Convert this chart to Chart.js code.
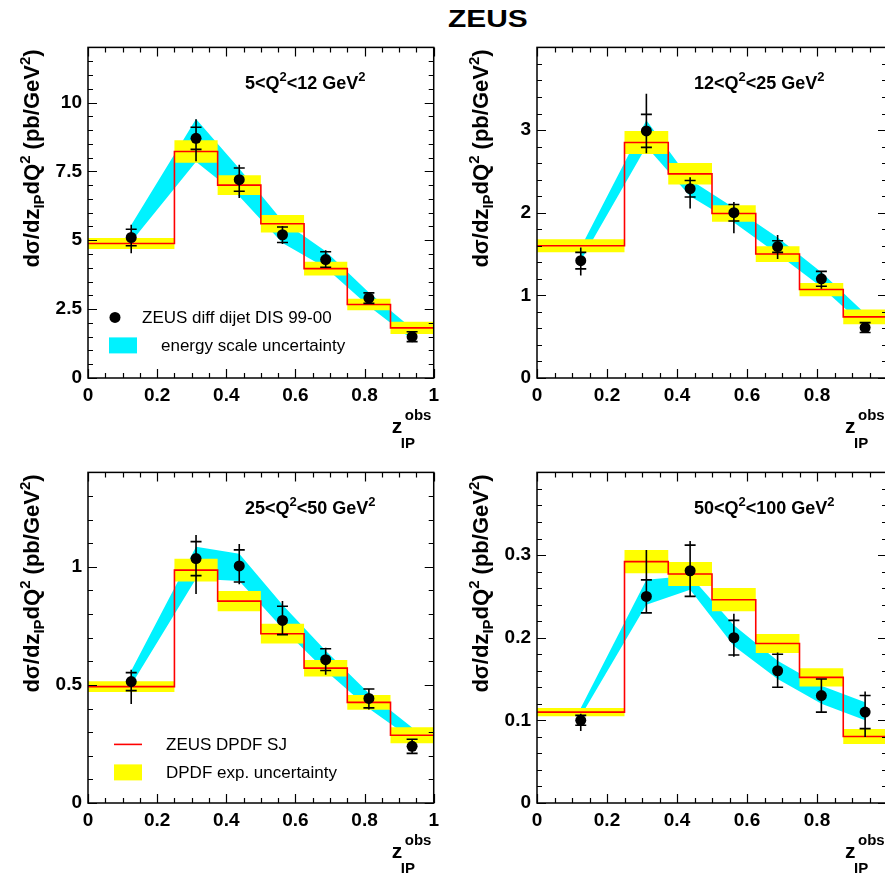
<!DOCTYPE html>
<html>
<head>
<meta charset="utf-8">
<title>ZEUS diffractive dijets</title>
<script src="https://cdn.jsdelivr.net/npm/chart.js@4.4.1/dist/chart.umd.min.js"></script>
<style>
  html, body { margin: 0; padding: 0; background: #fff; overflow: hidden; }
  body { width: 885px; height: 874px; position: relative; }
  canvas { position: absolute; }
  #title {
    position: absolute; left: 448px; top: 8px;
    font: bold 23px 'Liberation Sans', Arial, sans-serif; line-height: 23px;
    transform: scaleX(1.3); transform-origin: 0 0;
  }
</style>
</head>
<body>
<div id="title">ZEUS</div>
<canvas id="c1" width="445" height="430" style="left:0;top:30px"></canvas>
<canvas id="c2" width="446" height="430" style="left:449px;top:30px"></canvas>
<canvas id="c3" width="445" height="430" style="left:0;top:455px"></canvas>
<canvas id="c4" width="446" height="430" style="left:449px;top:455px"></canvas>
<script>
// z_IP^obs binning
const zEdges = [0, 0.25, 0.375, 0.5, 0.625, 0.75, 0.875, 1.0];
const zMid = [0.125, 0.3125, 0.4375, 0.5625, 0.6875, 0.8125, 0.9375];
const xTicksL = [0, 0.2, 0.4, 0.6, 0.8, 1];
const xTicksR = [0, 0.2, 0.4, 0.6, 0.8];

// 5 < Q2 < 12 GeV2
const sig1 = [5.1, 8.7, 7.2, 5.2, 4.3, 2.9, 1.5];
const stat1 = [0.3, 0.4, 0.42, 0.28, 0.28, 0.19, 0.18];
const errUp1 = [0.46, 0.69, 0.54, 0.32, 0.34, 0.2, 0.2];
const errDn1 = [0.57, 0.83, 0.67, 0.34, 0.3, 0.2, 0.2];
const escLo1 = [4.95, 7.85, 6.6, 4.9, 4.0, 2.6, 1.4];
const escHi1 = [5.55, 9.4, 7.6, 5.7, 4.6, 3.1, 1.8];
const sj1 = [4.88, 8.22, 7.0, 5.6, 3.97, 2.67, 1.82];
const sjErr1 = [0.2, 0.41, 0.36, 0.32, 0.25, 0.21, 0.22];
const yTicks1 = [0, 2.5, 5, 7.5, 10];

// 12 < Q2 < 25 GeV2
const sig2 = [1.42, 2.99, 2.29, 2.0, 1.59, 1.2, 0.61];
const stat2 = [0.1, 0.2, 0.1, 0.1, 0.07, 0.09, 0.06];
const errUp2 = [0.16, 0.45, 0.14, 0.13, 0.14, 0.1, 0.07];
const errDn2 = [0.18, 0.27, 0.24, 0.25, 0.15, 0.12, 0.07];
const escLo2 = [1.42, 2.8, 2.2, 1.88, 1.5, 1.1, 0.62];
const escHi2 = [1.58, 3.12, 2.4, 2.06, 1.7, 1.28, 0.78];
const sj2 = [1.6, 2.85, 2.47, 1.99, 1.5, 1.07, 0.74];
const sjErr2 = [0.08, 0.14, 0.13, 0.1, 0.095, 0.08, 0.09];
const yTicks2 = [0, 1, 2, 3];

// 25 < Q2 < 50 GeV2
const sig3 = [0.514, 1.035, 1.004, 0.773, 0.607, 0.443, 0.24];
const stat3 = [0.038, 0.072, 0.068, 0.06, 0.046, 0.04, 0.03];
const errUp3 = [0.05, 0.1, 0.093, 0.082, 0.05, 0.043, 0.03];
const errDn3 = [0.095, 0.15, 0.078, 0.057, 0.064, 0.047, 0.03];
const escLo3 = [0.5, 0.95, 0.94, 0.74, 0.56, 0.4, 0.27];
const escHi3 = [0.56, 1.085, 1.055, 0.84, 0.645, 0.465, 0.32];
const sj3 = [0.493, 0.986, 0.855, 0.717, 0.571, 0.426, 0.287];
const sjErr3 = [0.023, 0.048, 0.043, 0.042, 0.035, 0.031, 0.034];
const yTicks3 = [0, 0.5, 1];

// 50 < Q2 < 100 GeV2
const sig4 = [0.1, 0.25, 0.281, 0.2, 0.16, 0.13, 0.11];
const stat4 = [0.006, 0.02, 0.031, 0.021, 0.02, 0.02, 0.02];
const errUp4 = [0.008, 0.056, 0.036, 0.029, 0.022, 0.02, 0.025];
const errDn4 = [0.013, 0.021, 0.032, 0.023, 0.02, 0.02, 0.03];
const escLo4 = [0.105, 0.24, 0.258, 0.19, 0.15, 0.12, 0.1];
const escHi4 = [0.115, 0.27, 0.275, 0.215, 0.172, 0.142, 0.122];
const sj4 = [0.11, 0.292, 0.277, 0.246, 0.193, 0.152, 0.0805];
const sjErr4 = [0.005, 0.014, 0.0145, 0.014, 0.0115, 0.011, 0.009];
const yTicks4 = [0, 0.1, 0.2, 0.3];

const FONT = "'Liberation Sans', Arial, Helvetica, sans-serif";
const CYAN = '#00f2ff';
const YELLOW = '#ffff00';
const RED = '#ff0000';

function font(size, bold) {
  return (bold ? 'bold ' : '') + size + 'px ' + FONT;
}

function segWidth(ctx, segs) {
  let w = 0;
  segs.forEach(s => {
    ctx.font = font(s.size, s.bold !== false);
    w += ctx.measureText(s.t).width;
  });
  return w;
}

function drawSegs(ctx, segs, x, y) {
  let cx = x;
  segs.forEach(s => {
    ctx.font = font(s.size, s.bold !== false);
    ctx.fillText(s.t, cx, y + (s.dy || 0));
    cx += ctx.measureText(s.t).width;
  });
}

const yTitle = [
  {t: 'd\u03c3/dz', size: 22}, {t: 'IP', size: 15, dy: 5},
  {t: 'dQ', size: 22}, {t: '2', size: 15, dy: -9},
  {t: ' (pb/GeV', size: 22}, {t: '2', size: 15, dy: -9}, {t: ')', size: 22}
];

function q2Label(lo, hi) {
  return [
    {t: lo + '<Q', size: 18}, {t: '2', size: 13, dy: -8},
    {t: '<' + hi + ' GeV', size: 18}, {t: '2', size: 13, dy: -8}
  ];
}

// frame, inward ticks, axis titles, bin label and legend
const panelPlugin = {
  id: 'panel',
  afterDatasetsDraw(chart, args, o) {
    const {ctx, scales: {x, y}} = chart;
    ctx.save();
    ctx.strokeStyle = '#000';
    ctx.lineWidth = 1.6;
    ctx.beginPath();
    o.sig.forEach((v, i) => {
      const px = x.getPixelForValue(zMid[i]);
      ctx.moveTo(px, y.getPixelForValue(v + o.up[i]));
      ctx.lineTo(px, y.getPixelForValue(v - o.dn[i]));
      [v + o.stat[i], v - o.stat[i]].forEach(e => {
        const py = y.getPixelForValue(e);
        ctx.moveTo(px - 5.5, py);
        ctx.lineTo(px + 5.5, py);
      });
    });
    ctx.stroke();
    ctx.restore();
  },
  afterDraw(chart, args, o) {
    const {ctx, chartArea: a, scales: {x, y}} = chart;
    ctx.save();
    ctx.strokeStyle = '#000';
    ctx.lineWidth = 1.2;
    ctx.beginPath();
    for (let i = 0; i <= 20; i++) {
      const px = Math.round(x.getPixelForValue(i * 0.05)) + 0.5;
      const len = i % 4 === 0 ? 9 : 5;
      ctx.moveTo(px, a.bottom); ctx.lineTo(px, a.bottom - len);
      ctx.moveTo(px, a.top); ctx.lineTo(px, a.top + len);
    }
    const n = Math.round(y.max / o.yMinor);
    for (let i = 0; i <= n; i++) {
      const py = Math.round(y.getPixelForValue(i * o.yMinor)) + 0.5;
      const len = i % 5 === 0 ? 9 : 5;
      ctx.moveTo(a.left, py); ctx.lineTo(a.left + len, py);
      ctx.moveTo(a.right, py); ctx.lineTo(a.right - len, py);
    }
    ctx.stroke();
    ctx.lineWidth = 1.5;
    ctx.strokeRect(a.left, a.top, a.right - a.left, a.bottom - a.top);

    ctx.fillStyle = '#000';
    ctx.textAlign = 'left';
    ctx.textBaseline = 'alphabetic';

    // y title, reading upwards, ending at the top of the frame
    const w = segWidth(ctx, yTitle);
    ctx.save();
    ctx.translate(a.left - 49, a.top + 2 + w);
    ctx.rotate(-Math.PI / 2);
    drawSegs(ctx, yTitle, 0, 0);
    ctx.restore();

    // x title z_IP^obs
    ctx.font = font(21, true);
    ctx.fillText('z', a.right - 42, a.bottom + 55);
    ctx.font = font(15, true);
    ctx.fillText('obs', a.right - 29, a.bottom + 42);
    ctx.fillText('IP', a.right - 33, a.bottom + 70);

    drawSegs(ctx, o.label, a.left + 157, a.top + 42);

    (o.legend || []).forEach(item => {
      const lx = a.left + item.x, ly = a.top + item.y;
      if (item.kind === 'dot') {
        ctx.beginPath();
        ctx.arc(lx + 14, ly, 5.5, 0, Math.PI * 2);
        ctx.fill();
      } else if (item.kind === 'box') {
        ctx.fillStyle = item.color;
        ctx.fillRect(lx, ly - 8, 28, 16);
      } else {
        ctx.strokeStyle = item.color;
        ctx.lineWidth = 1.6;
        ctx.beginPath();
        ctx.moveTo(lx, ly); ctx.lineTo(lx + 28, ly);
        ctx.stroke();
      }
      ctx.fillStyle = '#000';
      ctx.font = font(17, false);
      ctx.textBaseline = 'middle';
      ctx.fillText(item.text, a.left + item.tx, ly + 1);
      ctx.textBaseline = 'alphabetic';
    });
    ctx.restore();
  }
};

function fmt(v) {
  return String(Number(v.toFixed(3)));
}

function datasets(sig, escLo, escHi, sj, sjErr) {
  const pts = zMid.map((z, i) => ({x: z, y: sig[i]}));
  const band = v => zMid.map((z, i) => ({x: z, y: v[i]}));
  const steps = v => zEdges.map((z, i) => ({x: z, y: v[Math.min(i, v.length - 1)]}));
  const clear = 'rgba(0,0,0,0)';
  return [
    {data: pts, showLine: false, pointRadius: 5.5, pointBackgroundColor: '#000', pointBorderWidth: 0, order: 0},
    {data: steps(sj), stepped: 'before', borderColor: RED, borderWidth: 1.6, pointRadius: 0, fill: false, order: 1},
    {data: steps(sj.map((v, i) => v + sjErr[i])), stepped: 'before', borderColor: clear, borderWidth: 1,
      pointRadius: 0, backgroundColor: YELLOW, fill: '+1', order: 2},
    {data: steps(sj.map((v, i) => v - sjErr[i])), stepped: 'before', borderColor: clear, borderWidth: 1,
      pointRadius: 0, fill: false, order: 3},
    {data: band(escHi), borderColor: clear, borderWidth: 1, pointRadius: 0, backgroundColor: CYAN,
      fill: '+1', tension: 0, order: 4},
    {data: band(escLo), borderColor: clear, borderWidth: 1, pointRadius: 0, fill: false, tension: 0, order: 5}
  ];
}

function makePanel(id, cfg) {
  return new Chart(document.getElementById(id), {
    type: 'line',
    data: {datasets: datasets(cfg.sig, cfg.escLo, cfg.escHi, cfg.sj, cfg.sjErr)},
    plugins: [panelPlugin],
    options: {
      responsive: false,
      animation: false,
      devicePixelRatio: 1,
      events: [],
      layout: {padding: {left: 38, top: 17, right: 8, bottom: 50}},
      plugins: {
        legend: {display: false},
        tooltip: {enabled: false},
        panel: {
          sig: cfg.sig, stat: cfg.stat, up: cfg.up, dn: cfg.dn,
          yMinor: cfg.yMinor, label: cfg.label, legend: cfg.legend
        }
      },
      scales: {
        x: {
          type: 'linear', min: 0, max: 1,
          grid: {display: false, drawTicks: false},
          border: {display: false},
          ticks: {color: '#000', font: {size: 19, weight: 'bold'}, padding: 6, maxRotation: 0, autoSkip: false, callback: fmt},
          afterBuildTicks: s => { s.ticks = cfg.xTicks.map(v => ({value: v})); },
          afterFit: s => { s.height = 32; }
        },
        y: {
          type: 'linear', min: 0, max: cfg.yMax,
          grid: {display: false, drawTicks: false},
          border: {display: false},
          ticks: {color: '#000', font: {size: 19, weight: 'bold'}, padding: 6, autoSkip: false, callback: fmt},
          afterBuildTicks: s => { s.ticks = cfg.yTicks.map(v => ({value: v})); },
          afterFit: s => { s.width = 50; }
        }
      }
    }
  });
}

Chart.defaults.font.family = FONT;

makePanel('c1', {
  sig: sig1, stat: stat1, up: errUp1, dn: errDn1, escLo: escLo1, escHi: escHi1, sj: sj1, sjErr: sjErr1,
  yMax: 12, yMinor: 0.5, yTicks: yTicks1, xTicks: xTicksL, label: q2Label(5, 12),
  legend: [
    {kind: 'dot', x: 13, y: 270, tx: 54, text: 'ZEUS diff dijet DIS 99-00'},
    {kind: 'box', color: CYAN, x: 21, y: 298, tx: 73, text: 'energy scale uncertainty'}
  ]
});
makePanel('c2', {
  sig: sig2, stat: stat2, up: errUp2, dn: errDn2, escLo: escLo2, escHi: escHi2, sj: sj2, sjErr: sjErr2,
  yMax: 4, yMinor: 0.2, yTicks: yTicks2, xTicks: xTicksR, label: q2Label(12, 25)
});
makePanel('c3', {
  sig: sig3, stat: stat3, up: errUp3, dn: errDn3, escLo: escLo3, escHi: escHi3, sj: sj3, sjErr: sjErr3,
  yMax: 1.4, yMinor: 0.1, yTicks: yTicks3, xTicks: xTicksL, label: q2Label(25, 50),
  legend: [
    {kind: 'line', color: RED, x: 26, y: 272, tx: 78, text: 'ZEUS DPDF SJ'},
    {kind: 'box', color: YELLOW, x: 26, y: 300, tx: 78, text: 'DPDF exp. uncertainty'}
  ]
});
makePanel('c4', {
  sig: sig4, stat: stat4, up: errUp4, dn: errDn4, escLo: escLo4, escHi: escHi4, sj: sj4, sjErr: sjErr4,
  yMax: 0.4, yMinor: 0.02, yTicks: yTicks4, xTicks: xTicksR, label: q2Label(50, 100)
});
</script>
</body>
</html>
